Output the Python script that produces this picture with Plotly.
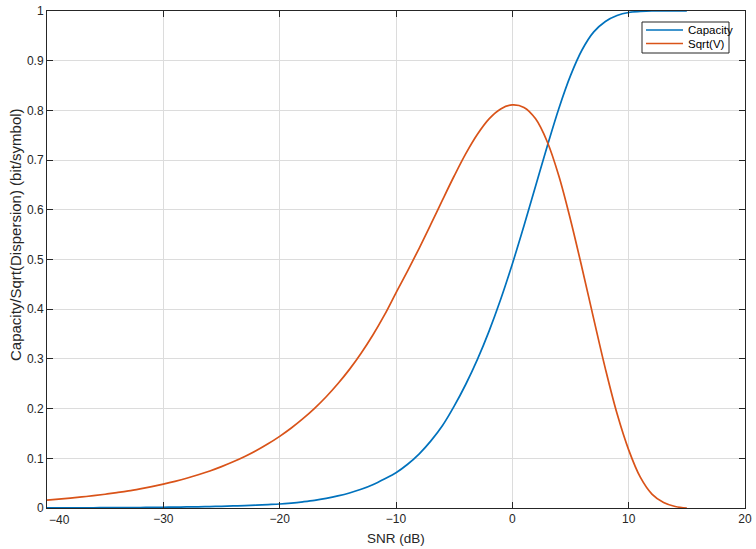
import plotly.graph_objects as go

# Data (1 dB steps)
snr = list(range(-40, 16))
capacity = [0.0003, 0.0003, 0.0004, 0.0004, 0.0005, 0.0006, 0.0007, 0.0009, 0.0010, 0.0012,
            0.0015, 0.0017, 0.0021, 0.0024, 0.0029, 0.0034, 0.0041, 0.0048, 0.0057, 0.0068,
            0.0080, 0.0100, 0.0125, 0.0155, 0.0195, 0.0243, 0.0302, 0.0376, 0.0469, 0.0584,
            0.071, 0.088, 0.109, 0.135, 0.166, 0.205, 0.249, 0.299, 0.356, 0.420,
            0.491, 0.568, 0.648, 0.728, 0.804, 0.870, 0.922, 0.958, 0.979, 0.991,
            0.997, 0.999, 1.0, 1.0, 1.0, 1.0]
sqrt_v = [0.0160, 0.0179, 0.0199, 0.0222, 0.0248, 0.0277, 0.0310, 0.0345, 0.0386, 0.0430,
          0.0480, 0.0536, 0.0598, 0.0668, 0.0745, 0.0832, 0.0929, 0.1037, 0.1157, 0.1292,
          0.1442, 0.1609, 0.1797, 0.2005, 0.2238, 0.2499, 0.2789, 0.3114, 0.3476, 0.388,
          0.433, 0.477, 0.523, 0.571, 0.620, 0.668, 0.713, 0.752, 0.783, 0.803,
          0.811, 0.806, 0.783, 0.737, 0.668, 0.580, 0.482, 0.380, 0.280, 0.190,
          0.117, 0.062, 0.028, 0.011, 0.003, 0.0]

x_ticks = [-40, -30, -20, -10, 0, 10, 20]
x_ticktext = ["", "\u221230", "\u221220", "\u221210", "0", "10", "20"]
y_ticks = [0, 0.1, 0.2, 0.3, 0.4, 0.5, 0.6, 0.7, 0.8, 0.9, 1]
y_ticktext = ["0", "0.1", "0.2", "0.3", "0.4", "0.5", "0.6", "0.7", "0.8", "0.9", "1"]
series_names = ["Capacity", "Sqrt(V)"]

FONT = "Liberation Sans, Arial, Helvetica, sans-serif"
BLUE = "#0072BD"
ORANGE = "#D95319"
TXT = "#262626"

# plot area in pixels (for legend placement)
L, R, T, B = 47, 745, 11, 508
W, H = R - L, B - T
def px(x):
    return (x - L) / W
def py(y):
    return (B - y) / H

fig = go.Figure()
fig.add_trace(go.Scatter(x=snr, y=capacity, mode="lines", name=series_names[0],
                         line=dict(color=BLUE, width=1.7, shape="spline", smoothing=1.0),
                         showlegend=False))
fig.add_trace(go.Scatter(x=snr, y=sqrt_v, mode="lines", name=series_names[1],
                         line=dict(color=ORANGE, width=1.7, shape="spline", smoothing=1.0),
                         showlegend=False))

axis_common = dict(
    showline=True, linecolor=TXT, linewidth=1, mirror="ticks",
    ticks="inside", ticklen=6, tickcolor=TXT, tickwidth=1,
    showgrid=True, gridcolor="#dcdcdc", gridwidth=1, zeroline=False,
    tickfont=dict(family=FONT, size=12, color=TXT), automargin=False,
)

fig.update_layout(
    width=756, height=549,
    margin=dict(l=L, r=756 - R, t=T, b=549 - B),
    paper_bgcolor="white", plot_bgcolor="white",
    font=dict(family=FONT, size=12, color=TXT),
    showlegend=False,
    xaxis=dict(range=[-40, 20], tickvals=x_ticks, ticktext=x_ticktext,
               title=dict(text="SNR (dB)", standoff=8, font=dict(family=FONT, size=13.5, color=TXT)),
               **axis_common),
    yaxis=dict(range=[0, 1], tickvals=y_ticks, ticktext=y_ticktext, **axis_common),
)

# y-axis title (placed as in the reference, slightly above the plot centre)
fig.add_annotation(x=px(16), y=py(235), xref="paper", yref="paper",
                   text="Capacity/Sqrt(Dispersion) (bit/symbol)", textangle=-90,
                   showarrow=False, xanchor="center", yanchor="middle",
                   font=dict(family=FONT, size=15, color=TXT))

fig.add_annotation(x=-40, y=0, xref="x", yref="paper", text="\u221240", showarrow=False,
                   xanchor="left", yanchor="top", xshift=0, yshift=-3,
                   font=dict(family=FONT, size=12, color=TXT))

# manual legend (MATLAB style)
fig.add_shape(type="rect", xref="paper", yref="paper",
              x0=px(642), x1=px(729), y0=py(53), y1=py(22),
              line=dict(color=TXT, width=1), fillcolor="white", layer="above")
for i, (name, col) in enumerate(zip(series_names, [BLUE, ORANGE])):
    yy = 30 + i * 13.5
    fig.add_shape(type="line", xref="paper", yref="paper",
                  x0=px(646), x1=px(683), y0=py(yy), y1=py(yy),
                  line=dict(color=col, width=1.7), layer="above")
    fig.add_annotation(x=px(686), y=py(yy), xref="paper", yref="paper", text=name,
                       showarrow=False, xanchor="left", yanchor="middle",
                       font=dict(family=FONT, size=11.5, color="#000000"))

fig.write_html("out.html")
